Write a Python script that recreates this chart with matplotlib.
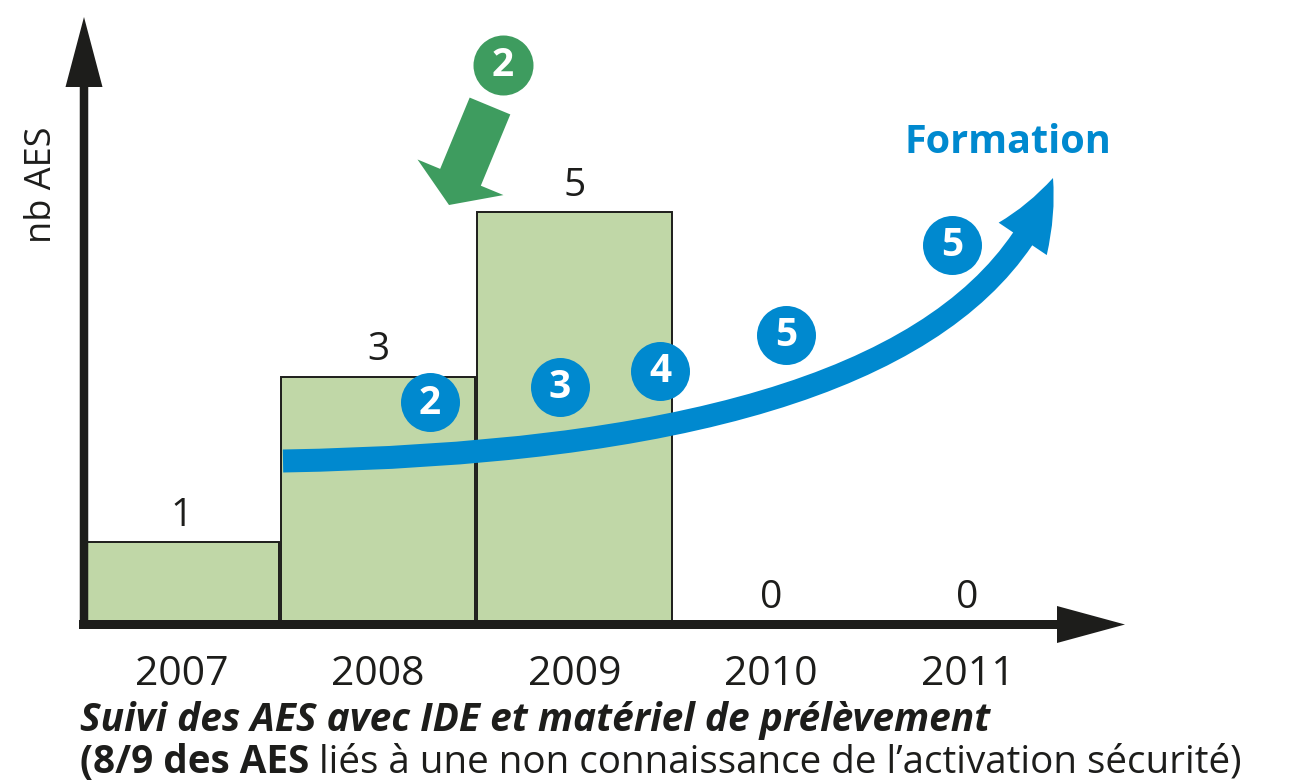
import matplotlib
matplotlib.use("Agg")
import matplotlib.pyplot as plt
from matplotlib.patches import FancyArrowPatch, ArrowStyle
from matplotlib.path import Path

years = ["2007", "2008", "2009", "2010", "2011"]
nb_aes = [1, 3, 5, 0, 0]

formation_steps = [2, 3, 4, 5, 5]   # blue badges along the curve
alert_step = 2                      # green badge

title_line = "Suivi des AES avec IDE et matériel de prélèvement"
note_bold = "(8/9 des AES"
note_rest = " liés à une non connaissance de l\u2019activation sécurité)"

BAR = "#c0d7a7"
BLUE = "#0089cf"
GREEN = "#3e9c5f"
INK = "#1d1d1b"

W, H = 1306, 782
X0, DX = 181.5, 196.5    # pixel x of the 2007 bar centre, bar spacing
Y0, DY = 624, 82.5       # pixel y of the baseline, pixels per AES
PX = 72 / 100            # one pixel in points


def p(x, y):
    # picture pixel -> data coords
    return ((x - X0) / DX, (Y0 - y) / DY)


plt.rcParams["font.family"] = ["Open Sans", "DejaVu Sans"]
fig = plt.figure(figsize=(W / 100, H / 100), dpi=100)
ax = fig.add_axes([0, 0, 1, 1])
ax.set_xlim(p(0, 0)[0], p(W, 0)[0])
ax.set_ylim(p(0, H)[1], p(0, 0)[1])
ax.axis("off")

xs = list(range(len(years)))
ax.bar(xs, nb_aes, width=0.99, color=BAR, edgecolor=INK, linewidth=1.4, zorder=2)

for x, v in zip(xs, nb_aes):
    ax.annotate(str(v), (x, v), xytext=(0, 16 * PX), textcoords="offset points",
                ha="center", va="baseline", fontsize=28, color=INK, zorder=3)

for x, y in zip(xs, years):
    ax.text(x, p(0, 685)[1], y, ha="center", va="baseline", fontsize=29.5, color=INK)


def arrow(a, b, tw, hw, hl, color, z, path=None):
    st = ArrowStyle.Simple(head_length=hl, head_width=hw, tail_width=tw)
    if path is not None:
        ar = FancyArrowPatch(path=path, arrowstyle=st, mutation_scale=PX,
                             color=color, lw=0, zorder=z)
    else:
        ar = FancyArrowPatch(p(*a), p(*b), arrowstyle=st, mutation_scale=PX,
                             color=color, lw=0, shrinkA=0, shrinkB=0, zorder=z)
    ax.add_patch(ar)


# axes
arrow((84, 629), (84, 17), 8.5, 37, 70, INK, 4)
arrow((79, 624.5), (1125, 624.5), 9, 37, 68, INK, 4)

# Formation curve
curve = Path([p(283, 461), p(960, 450), p(1053, 178)],
             [Path.MOVETO, Path.CURVE3, Path.CURVE3])
arrow(None, None, 23, 58, 68, BLUE, 5, path=curve)
ax.text(*p(1008, 153), "Formation", ha="center", va="baseline", fontsize=28.5,
        fontweight="bold", color=BLUE)

# green alert arrow
arrow((490, 106), (449, 205), 44, 93, 30, GREEN, 5)

# badges
badge_pos = [(430, 402), (560, 387), (660, 371), (786, 335), (952, 245)]
for n, (bx, by) in zip(formation_steps, badge_pos):
    ax.scatter(*p(bx, by), s=(59 * PX) ** 2, color=BLUE, zorder=6, linewidths=0)
    ax.text(*p(bx, by + 1), str(n), ha="center", va="center", fontsize=28,
            fontweight="bold", color="white", zorder=7)
ax.scatter(*p(503, 65), s=(60 * PX) ** 2, color=GREEN, zorder=6, linewidths=0)
ax.text(*p(503, 66), str(alert_step), ha="center", va="center", fontsize=28,
        fontweight="bold", color="white", zorder=7)

# y label
ax.text(*p(42, 185), "nb AES", rotation=90, ha="center", va="center",
        fontsize=26, color=INK)

# caption
ax.text(*p(80, 731), title_line, ha="left", va="baseline", fontsize=28,
        fontweight="bold", fontstyle="italic", color=INK)
t = ax.text(*p(80, 773), note_bold, ha="left", va="baseline", fontsize=27.8,
            fontweight="bold", color=INK)
ax.annotate(note_rest, xy=(1, 0), xycoords=t, ha="left", va="bottom",
            fontsize=27.8, color=INK)

fig.savefig("out.png", dpi=100)
